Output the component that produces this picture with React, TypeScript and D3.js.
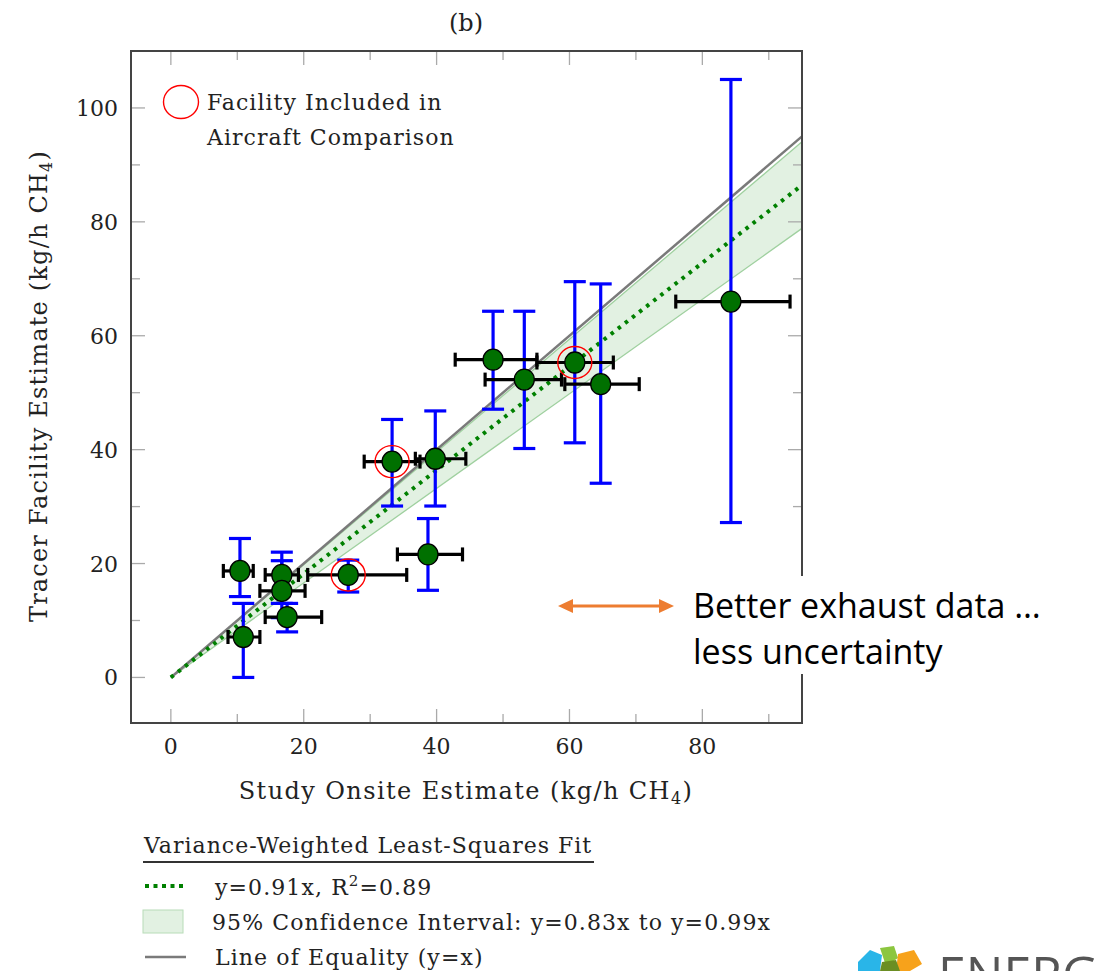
import React from "react";
import * as d3 from "d3";

const onsite = [10.4, 10.9, 16.7, 16.7, 17.5, 26.7, 38.7, 33.3, 39.8, 48.5, 53.2, 60.8, 64.7, 84.3];
const onsiteLo = [7.9, 8.6, 14.2, 13.4, 14.2, 20.6, 34.1, 29.1, 36.8, 42.8, 47.3, 55.1, 59.3, 76.0];
const onsiteHi = [12.4, 13.4, 19.2, 20.2, 22.7, 35.5, 43.9, 37.5, 44.4, 55.1, 58.8, 66.6, 70.5, 93.2];
const tracer = [18.7, 7.1, 18.0, 15.2, 10.6, 18.0, 21.6, 37.9, 38.4, 55.8, 52.3, 55.3, 51.5, 66.0];
const tracerLo = [14.2, 0, 13.0, 10.5, 8.0, 15.0, 15.3, 30.1, 30.1, 47.1, 40.2, 41.2, 34.1, 27.2];
const tracerHi = [24.4, 13.0, 22.0, 20.5, 13.0, 20.6, 27.9, 45.3, 46.8, 64.3, 64.3, 69.5, 69.1, 105];
const inAircraft = [false, false, false, false, false, true, false, true, false, false, false, true, false, false];

const xTicks = [0, 20, 40, 60, 80];
const xMinor = [10, 30, 50, 70, 90];
const yTicks = [0, 20, 40, 60, 80, 100];
const yMinor = [10, 30, 50, 70, 90];
const fitSlope = 0.91;
const ciLow = 0.83;
const ciHigh = 0.99;
const lineMax = 95;

const SERIF = "'DejaVu Serif', serif";

export default function App() {
  const left = 131, right = 802, top = 51, bottom = 723;
  const x = d3.scaleLinear().domain([-6, 95]).range([left, right]);
  const y = d3.scaleLinear().domain([-8, 110]).range([bottom, top]);

  const xs = [0, lineMax];
  const band = d3.area<number>().x(v => x(v)).y0(v => y(ciLow * v)).y1(v => y(ciHigh * v));
  const line = (slope: number) => d3.line<number>().x(v => x(v)).y(v => y(slope * v))(xs) || "";

  const tickColor = "#aaa";
  const capW = 11, capH = 7;

  return (
    <svg width={1094} height={971} style={{ position: "absolute", left: 0, top: 0, background: "#fff" }}>
      <text x={466} y={31} textAnchor="middle" fontFamily={SERIF} fontSize={24} fill="#222">(b)</text>

      {/* band and lines */}
      <path d={band(xs) || ""} fill="#d8ecd8" fillOpacity={0.75} />
      <path d={line(ciLow)} stroke="#9fd09f" strokeWidth={1.3} fill="none" />
      <path d={line(ciHigh)} stroke="#9fd09f" strokeWidth={1.3} fill="none" />
      <path d={line(1)} stroke="#7a7a7a" strokeWidth={2.5} fill="none" />
      <path d={line(fitSlope)} stroke="#008000" strokeWidth={4} strokeDasharray="3.5 5.5" fill="none" />

      {/* ticks */}
      {xTicks.map(t => (
        <g key={"xt" + t}>
          <line x1={x(t)} x2={x(t)} y1={bottom} y2={bottom - 14} stroke={tickColor} strokeWidth={1.3} />
          <line x1={x(t)} x2={x(t)} y1={top} y2={top + 14} stroke={tickColor} strokeWidth={1.3} />
          <text x={x(t)} y={bottom + 31} textAnchor="middle" fontFamily={SERIF} fontSize={22} fill="#222">{t}</text>
        </g>
      ))}
      {xMinor.map(t => (
        <g key={"xm" + t}>
          <line x1={x(t)} x2={x(t)} y1={bottom} y2={bottom - 9} stroke={tickColor} strokeWidth={1.3} />
          <line x1={x(t)} x2={x(t)} y1={top} y2={top + 9} stroke={tickColor} strokeWidth={1.3} />
        </g>
      ))}
      {yTicks.map(t => (
        <g key={"yt" + t}>
          <line x1={left} x2={left + 14} y1={y(t)} y2={y(t)} stroke={tickColor} strokeWidth={1.3} />
          <line x1={right} x2={right - 14} y1={y(t)} y2={y(t)} stroke={tickColor} strokeWidth={1.3} />
          <text x={118} y={y(t) + 8} textAnchor="end" fontFamily={SERIF} fontSize={22} fill="#222">{t}</text>
        </g>
      ))}
      {yMinor.map(t => (
        <g key={"ym" + t}>
          <line x1={left} x2={left + 9} y1={y(t)} y2={y(t)} stroke={tickColor} strokeWidth={1.3} />
          <line x1={right} x2={right - 9} y1={y(t)} y2={y(t)} stroke={tickColor} strokeWidth={1.3} />
        </g>
      ))}

      {/* y error bars */}
      {onsite.map((v, i) => (
        <g key={"ye" + i} stroke="#0000ff" strokeWidth={3.2}>
          <line x1={x(v)} x2={x(v)} y1={y(tracerLo[i])} y2={y(tracerHi[i])} />
          <line x1={x(v) - capW} x2={x(v) + capW} y1={y(tracerLo[i])} y2={y(tracerLo[i])} />
          <line x1={x(v) - capW} x2={x(v) + capW} y1={y(tracerHi[i])} y2={y(tracerHi[i])} />
        </g>
      ))}
      {/* x error bars */}
      {onsite.map((v, i) => (
        <g key={"xe" + i} stroke="#000" strokeWidth={3.2}>
          <line x1={x(onsiteLo[i])} x2={x(onsiteHi[i])} y1={y(tracer[i])} y2={y(tracer[i])} />
          <line x1={x(onsiteLo[i])} x2={x(onsiteLo[i])} y1={y(tracer[i]) - capH} y2={y(tracer[i]) + capH} />
          <line x1={x(onsiteHi[i])} x2={x(onsiteHi[i])} y1={y(tracer[i]) - capH} y2={y(tracer[i]) + capH} />
        </g>
      ))}
      {/* markers */}
      {onsite.map((v, i) => (
        <ellipse key={"pt" + i} cx={x(v)} cy={y(tracer[i])} rx={10} ry={10.5} fill="#007000" stroke="#000" strokeWidth={1.3} />
      ))}
      {onsite.map((v, i) => inAircraft[i] ? (
        <ellipse key={"rc" + i} cx={x(v)} cy={y(tracer[i])} rx={17} ry={16} fill="none" stroke="#ff0000" strokeWidth={1.4} />
      ) : null)}

      {/* frame */}
      <rect x={788} y={558} width={13} height={164} fill="#fff" />
      <rect x={left} y={top} width={right - left} height={bottom - top} fill="none" stroke="#444" strokeWidth={2} />

      {/* in-plot legend */}
      <ellipse cx={181} cy={102} rx={17.5} ry={16.5} fill="none" stroke="#ff0000" strokeWidth={1.4} />
      <text x={207} y={110} fontFamily={SERIF} fontSize={22} letterSpacing={1.05} fill="#222">Facility Included in</text>
      <text x={207} y={145} fontFamily={SERIF} fontSize={22} letterSpacing={1.05} fill="#222">Aircraft Comparison</text>

      {/* axis titles */}
      <text x={466} y={799} textAnchor="middle" fontFamily={SERIF} fontSize={24} letterSpacing={1.4} fill="#222">
        Study Onsite Estimate (kg/h CH<tspan fontSize={16} dy={5}>4</tspan><tspan dy={-5}>)</tspan>
      </text>
      <text transform="translate(47,386) rotate(-90)" textAnchor="middle" fontFamily={SERIF} fontSize={24} letterSpacing={1.2} fill="#222">
        Tracer Facility Estimate (kg/h CH<tspan fontSize={16} dy={5}>4</tspan><tspan dy={-5}>)</tspan>
      </text>

      {/* bottom legend */}
      <text x={144} y={853} fontFamily={SERIF} fontSize={22} letterSpacing={1.0} fill="#222">Variance-Weighted Least-Squares Fit</text>
      <line x1={143} x2={594} y1={862} y2={862} stroke="#333" strokeWidth={2} />
      <line x1={145} x2={186} y1={886} y2={886} stroke="#008000" strokeWidth={4} strokeDasharray="4 4.5" />
      <text x={215} y={895} fontFamily={SERIF} fontSize={22} letterSpacing={1.1} fill="#222">
        y=0.91x, R<tspan fontSize={15} dy={-9}>2</tspan><tspan dy={9}>=0.89</tspan>
      </text>
      <rect x={143} y={910} width={40} height={23} fill="#e2f1e2" stroke="#b8dcb8" strokeWidth={1} />
      <text x={212} y={930} fontFamily={SERIF} fontSize={22} letterSpacing={1.1} fill="#222">95% Confidence Interval: y=0.83x to y=0.99x</text>
      <line x1={145} x2={186} y1={957} y2={957} stroke="#7a7a7a" strokeWidth={2.5} />
      <text x={215} y={965} fontFamily={SERIF} fontSize={22} letterSpacing={1.1} fill="#222">Line of Equality (y=x)</text>

      {/* annotation */}
      <rect x={688} y={576} width={406} height={98} fill="#fff" />
      <g stroke="#ED7D31" fill="#ED7D31">
        <line x1={570} x2={662} y1={606} y2={606} strokeWidth={3} />
        <path d="M558,606 L573,599 L573,613 Z" stroke="none" />
        <path d="M674,606 L659,599 L659,613 Z" stroke="none" />
      </g>
      <text x={693} y={618} fontFamily="'Open Sans', sans-serif" fontSize={34} fill="#000">Better exhaust data …</text>
      <text x={693} y={664} fontFamily="'Open Sans', sans-serif" fontSize={34} fill="#000">less uncertainty</text>

      {/* logo (cut off at the page edge, as in the reference) */}
      <g>
        <path d="M858,962 L870,950 L882,955 L880,971 L858,971 Z" fill="#29b5e8" />
        <path d="M880,948 L894,946 L898,958 L886,966 Z" fill="#8cc63f" />
        <path d="M898,954 L914,950 L922,964 L910,971 L896,971 Z" fill="#f7a21b" />
        <path d="M882,962 L896,960 L900,971 L880,971 Z" fill="#6b8e23" />
      </g>
      <text x={938} y={992} fontFamily="'Open Sans', sans-serif" fontSize={50} fill="#555">ENERGY</text>
    </svg>
  );
}
